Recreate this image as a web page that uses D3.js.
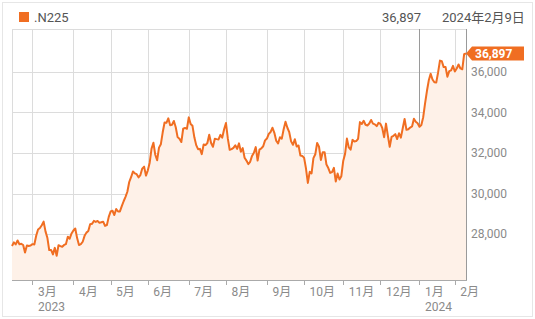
<!DOCTYPE html>
<html><head><meta charset="utf-8">
<script src="https://cdn.jsdelivr.net/npm/d3@7"></script>
<style>
html,body{margin:0;padding:0;background:#fff;}
svg{display:block;font-family:Roboto,"Noto Sans CJK JP",sans-serif;}
</style></head><body>
<svg id="chart" width="535" height="319"></svg>
<script>
// Nikkei 225 daily closes, 2023-02-13 .. 2024-02-09 (trading days)
const values = [
 27427,27602,27501,27696,27513,27531,27473,27104,27453,27423,27445,
 27516,27498,27927,28237,28309,28444,28623,28143,27832,27222,27229,27010,27333,26945,27466,27419,27385,27476,27518,27883,27782,28041,
 28188,28287,27813,27472,27518,27633,27923,28082,28157,28493,28514,28658,28606,28657,28564,28593,28620,28416,28457,28856,
 29123,29157,28949,29242,29122,29126,29388,29626,29842,30093,30573,30808,31086,31000,30957,30801,30916,31233,31328,30887,
 31148,31524,32217,32506,31913,31641,32265,32434,33018,33502,33485,33706,33370,33388,33575,33265,32781,32698,32538,33193,33234,33189,
 33753,33422,33338,32773,32388,32189,32203,31943,32419,32391,32493,32896,32490,32304,32700,32682,32668,32891,32759,33172,
 33476,32707,32159,32192,32254,32377,32204,32473,32059,32238,31766,31627,31451,31566,31856,32011,32288,31625,32169,32227,32333,32619,
 32711,32939,33036,33241,32991,32606,32467,32776,32706,33168,33533,33242,33023,32571,32402,32678,32315,32371,31872,31857,
 31759,31237,30526,31075,30994,31746,31936,32494,32315,31659,32040,32042,31430,31259,31019,31062,31269,30601,30991,30696,30859,
 31601,31950,32708,32272,32166,32646,32568,32585,32695,33519,33424,33585,33388,33354,33452,33625,33447,33408,33321,33486,
 33431,33231,32776,33445,32858,32307,32791,32843,32926,32686,32970,32758,33219,33675,33140,33169,33254,33305,33681,33540,33464,
 33288,33377,33763,34441,35049,35577,35901,35619,35477,35466,35963,36546,36517,36226,36236,35751,36026,36065,36286,
 36011,36158,36354,36160,36119,36863,36897
];
const startDate = "2023-02-13";
const holidays = ["2023-02-23","2023-03-21","2023-05-03","2023-05-04","2023-05-05","2023-07-17","2023-08-11",
  "2023-09-18","2023-10-09","2023-11-03","2023-11-23","2024-01-01","2024-01-02","2024-01-03","2024-01-08"];
const yTicks = [28000, 30000, 32000, 34000, 36000];
const monthLabel = m => (m + 1) + "月";
const seriesName = ".N225";
const lastLabel = "36,897";
const dateLabel = "2024年2月9日";

// trading-day calendar
const fmt = d3.timeFormat("%Y-%m-%d");
const hol = new Set(holidays);
const dates = [];
let d = d3.timeParse("%Y-%m-%d")(startDate);
while (dates.length < values.length) {
  const wd = d.getDay();
  if (wd !== 0 && wd !== 6 && !hol.has(fmt(d))) dates.push(new Date(d));
  d = d3.timeDay.offset(d, 1);
}
const data = values.map((v, i) => ({i, v, date: dates[i]}));
const monthStarts = data.filter((p, i) => i > 0 && p.date.getMonth() !== dates[i-1].getMonth());

const L = 12, R = 466, T = 29, B = 280;
const x = d3.scaleLinear().domain([0, values.length - 1]).range([L, R]);
const y = d3.scaleLinear().domain([25751, 38101]).range([B, T]);

const svg = d3.select("#chart");
svg.append("rect").attr("x", 2.5).attr("y", 2.5).attr("width", 530).attr("height", 314)
  .attr("fill", "#fff").attr("stroke", "#e6e6e6");

// grid
const g = svg.append("g");
g.selectAll("line.h").data(yTicks).join("line")
  .attr("x1", L).attr("x2", R).attr("y1", v => Math.round(y(v)) + 0.5).attr("y2", v => Math.round(y(v)) + 0.5)
  .attr("stroke", "#dcdcdc");
g.append("line").attr("x1", L).attr("x2", R).attr("y1", T + 0.5).attr("y2", T + 0.5).attr("stroke", "#dcdcdc");
g.append("line").attr("x1", L + 0.5).attr("x2", L + 0.5).attr("y1", T).attr("y2", B).attr("stroke", "#dcdcdc");
g.selectAll("line.v").data(monthStarts).join("line")
  .attr("x1", p => Math.round(x(p.i)) + 0.5).attr("x2", p => Math.round(x(p.i)) + 0.5)
  .attr("y1", T).attr("y2", B)
  .attr("stroke", p => p.date.getMonth() === 0 ? "#9a9a9a" : "#dcdcdc");

// area + line
const area = d3.area().x(p => x(p.i)).y0(B).y1(p => y(p.v));
const line = d3.line().x(p => x(p.i)).y(p => y(p.v));
svg.append("path").datum(data).attr("d", area).attr("fill", "#fef1e8");
svg.append("path").datum(data).attr("d", line).attr("fill", "none")
  .attr("stroke", "#f06e22").attr("stroke-width", 2).attr("stroke-linejoin", "round");

// borders
svg.append("line").attr("x1", R + 0.5).attr("x2", R + 0.5).attr("y1", T).attr("y2", B).attr("stroke", "#9a9a9a");
svg.append("line").attr("x1", L).attr("x2", R + 1).attr("y1", B + 0.5).attr("y2", B + 0.5).attr("stroke", "#aaa");

// x ticks and labels
svg.selectAll("line.xt").data(monthStarts).join("line")
  .attr("x1", p => Math.round(x(p.i)) + 0.5).attr("x2", p => Math.round(x(p.i)) + 0.5)
  .attr("y1", B).attr("y2", B + 5).attr("stroke", "#aaa");
svg.selectAll("text.xl").data(monthStarts).join("text")
  .attr("x", p => x(p.i) + 5.5).attr("y", 296)
  .attr("font-size", 12).attr("fill", "#8a8a8a").text(p => monthLabel(p.date.getMonth()));
const yearMarks = monthStarts.filter((p, k) => k === 0 || p.date.getMonth() === 0);
svg.selectAll("text.yr").data(yearMarks).join("text")
  .attr("x", p => x(p.i) + 5.5).attr("y", 311)
  .attr("font-size", 12).attr("fill", "#8a8a8a").text(p => p.date.getFullYear());

// y labels
svg.selectAll("text.yl").data(yTicks).join("text")
  .attr("x", 471).attr("y", v => y(v)).attr("dy", "0.35em")
  .attr("font-size", 12).attr("fill", "#8a8a8a").text(v => d3.format(",")(v));

// last value marker
const last = data[data.length - 1];
const ly = y(last.v);
svg.append("path")
  .attr("d", `M${R},${ly} L${R + 6},${ly - 7} L${R + 58},${ly - 7} L${R + 58},${ly + 7} L${R + 6},${ly + 7} Z`)
  .attr("fill", "#f06e22");
svg.append("text").attr("x", R + 9).attr("y", ly).attr("dy", "0.36em")
  .attr("font-size", 12).attr("font-weight", "bold").attr("fill", "#fff").text(lastLabel);

// header
svg.append("rect").attr("x", 19).attr("y", 12).attr("width", 10).attr("height", 10).attr("fill", "#f06e22");
svg.append("text").attr("x", 34).attr("y", 22).attr("font-size", 13).attr("fill", "#555").text(seriesName);
svg.append("text").attr("x", 382).attr("y", 22).attr("font-size", 13).attr("fill", "#555").text(lastLabel);
svg.append("text").attr("x", 442).attr("y", 22).attr("font-size", 13).attr("fill", "#555").text(dateLabel);
</script>
</body></html>
